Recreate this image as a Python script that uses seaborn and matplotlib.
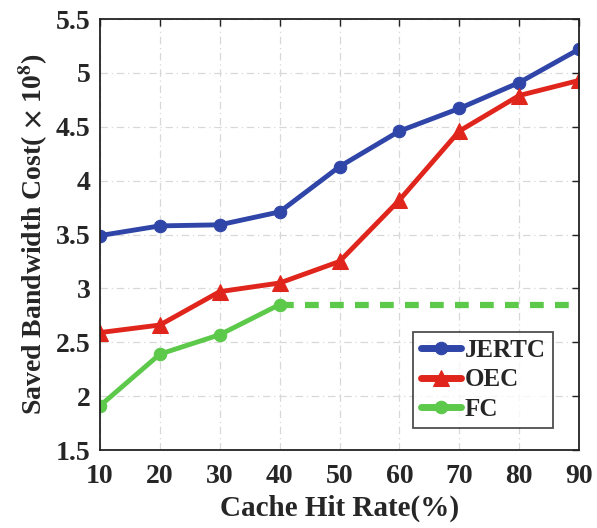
import matplotlib
matplotlib.use("Agg")
import matplotlib.pyplot as plt
import seaborn as sns
import pandas as pd

hit_rate = [10, 20, 30, 40, 50, 60, 70, 80, 90]
jertc = [3.49, 3.58, 3.59, 3.71, 4.13, 4.46, 4.67, 4.91, 5.22]
oec = [2.59, 2.66, 2.97, 3.05, 3.25, 3.82, 4.46, 4.79, 4.93]
fc_x = [10, 20, 30, 40]
fc = [1.91, 2.39, 2.57, 2.85]
fc_ext_x = [40, 90]
fc_ext = [2.85, 2.85]

sns.set_theme(style="white")
plt.rcParams['font.family'] = ['Liberation Serif', 'DejaVu Serif']
plt.rcParams['font.weight'] = 'bold'
plt.rcParams['mathtext.fontset'] = 'stix'

fig = plt.figure(figsize=(5.97, 5.28), dpi=100)
ax = fig.add_axes([0.1675, 0.1477, 0.8025, 0.8163])

blue = '#2f45a8'
red = '#e0261c'
green = '#5cc94a'

df_j = pd.DataFrame({'x': hit_rate, 'y': jertc})
df_o = pd.DataFrame({'x': hit_rate, 'y': oec})
df_f = pd.DataFrame({'x': fc_x, 'y': fc})
df_fe = pd.DataFrame({'x': fc_ext_x, 'y': fc_ext})

sns.lineplot(data=df_j, x='x', y='y', ax=ax, color=blue, lw=3.5, marker='o',
             markersize=9, markeredgecolor=blue, label='JERTC')
sns.lineplot(data=df_o, x='x', y='y', ax=ax, color=red, lw=3.5, marker='^',
             markersize=11, markeredgecolor=red, label='OEC')
sns.lineplot(data=df_f, x='x', y='y', ax=ax, color=green, lw=3.5, marker='o',
             markersize=9, markeredgecolor=green, label='FC')
sns.lineplot(data=df_fe, x='x', y='y', ax=ax, color=green, lw=4.5,
             linestyle=(0, (2.2, 1.8)), legend=False)

ax.set_xlim(10, 90)
ax.set_ylim(1.5, 5.5)
ax.set_xticks(hit_rate)
ax.set_yticks([1.5, 2, 2.5, 3, 3.5, 4, 4.5, 5, 5.5])
ax.set_yticklabels(['1.5', '2', '2.5', '3', '3.5', '4', '4.5', '5', '5.5'])
ax.tick_params(direction='in', length=5, width=1, top=True, right=True,
               labelsize=20, color='#222222')
ax.tick_params(axis='x', pad=10)
ax.tick_params(axis='y', pad=7)
for lab in ax.get_xticklabels() + ax.get_yticklabels():
    lab.set_fontweight('bold')
ax.grid(True, color='#d8d8d8', linestyle=(0, (6, 3, 1, 3)), lw=0.9)
for s in ax.spines.values():
    s.set_color('#222222')
    s.set_linewidth(1.3)

ax.set_xlabel('Cache Hit Rate(%)', fontsize=21, fontweight='bold', labelpad=4)
ax.set_ylabel(r'Saved Bandwidth Cost( $\times$ 10$^8$)', fontsize=20,
              fontweight='bold', labelpad=4)

leg = ax.legend(loc='lower right', bbox_to_anchor=(0.946, 0.051),
                borderaxespad=0,
                frameon=True, fancybox=False, edgecolor='#222222',
                handlelength=1.6, handletextpad=0.15, borderpad=0.3,
                labelspacing=0.25, prop={'weight': 'bold', 'size': 18})
leg.get_frame().set_linewidth(1.3)
for h in leg.get_lines():
    h.set_linewidth(5)

fig.savefig('out.png', dpi=100)
